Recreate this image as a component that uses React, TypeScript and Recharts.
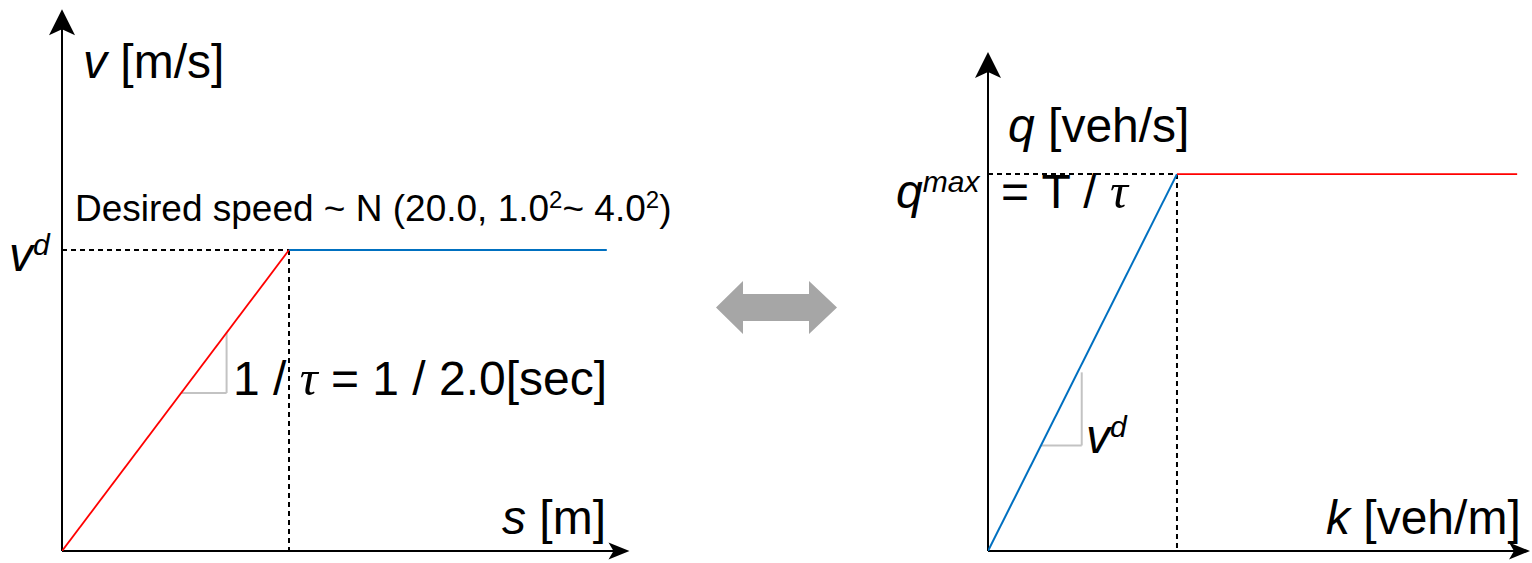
import React from 'react';
import {
  LineChart,
  Line,
  XAxis,
  YAxis,
  ReferenceLine,
  ReferenceDot,
  Customized,
} from 'recharts';

// ---- speed / spacing relation (v = s / tau, capped at the desired speed) ----
const desiredSpeed = 20.0; // m/s
const tau = 2.0; // s
const kneeSpacing = desiredSpeed * tau; // 40 m
const vsRising = [
  { s: 0, v: 0 },
  { s: kneeSpacing, v: desiredSpeed },
];
const vsFlat = [
  { s: kneeSpacing, v: desiredSpeed },
  { s: 96, v: desiredSpeed },
];
const sDomain: [number, number] = [0, 100];
const vDomain: [number, number] = [0, 36];
// slope marker on the rising branch
const sSlope = [21, 29];
const vSlope = [10.5, 14.5];

// ---- flow / density relation (q = v^d k, capped at q^max) ----
const qMax = 1 / tau; // veh/s
const kneeDensity = qMax / desiredSpeed; // veh/m
const qkRising = [
  { k: 0, q: 0 },
  { k: kneeDensity, q: qMax },
];
const qkFlat = [
  { k: kneeDensity, q: qMax },
  { k: 0.07, q: qMax },
];
const kDomain: [number, number] = [0, 0.0717];
const qDomain: [number, number] = [0, 0.662];
const kSlope = [0.007, 0.0124];
const qSlope = [0.14, 0.237];

const SANS = '"Liberation Sans", Arial, sans-serif';
const SERIF = '"Liberation Serif", "Times New Roman", serif';
const RED = '#ff0000';
const BLUE = '#0070c0';
const GUIDE_GRAY = '#c3c3c3';
const BIG = 48;
const SUP = 30;

// classic notched arrowheads for the axes
const UpHead = (props: any) => {
  const { cx, cy } = props;
  return (
    <path
      d={`M${cx},${cy} L${cx + 13},${cy + 26} L${cx},${cy + 20} L${cx - 13},${cy + 26} Z`}
      fill="#000"
    />
  );
};
const RightHead = (props: any) => {
  const { cx, cy } = props;
  return (
    <path
      d={`M${cx},${cy} L${cx - 21},${cy - 8.5} L${cx - 16},${cy} L${cx - 21},${cy + 8.5} Z`}
      fill="#000"
    />
  );
};

const LeftText = () => (
  <g fontFamily={SANS} fill="#000">
    <text x={83} y={78} fontSize={BIG}>
      <tspan fontStyle="italic">v</tspan>
      {' [m/s]'}
    </text>
    <text x={75} y={221} fontSize={37}>
      {'Desired speed ~ N (20.0, 1.0'}
      <tspan dy={-13} fontSize={24}>2</tspan>
      <tspan dy={13}>{'~ 4.0'}</tspan>
      <tspan dy={-13} fontSize={24}>2</tspan>
      <tspan dy={13}>)</tspan>
    </text>
    <text x={9} y={271} fontSize={BIG}>
      <tspan fontStyle="italic">v</tspan>
      <tspan dy={-16} fontSize={SUP} fontStyle="italic">d</tspan>
    </text>
    <text x={233} y={395} fontSize={BIG}>
      {'1 / '}
      <tspan fontFamily={SERIF} fontStyle="italic" fontSize={50}>τ</tspan>
      {' = 1 / 2.0[sec]'}
    </text>
    <text x={502} y={534} fontSize={BIG}>
      <tspan fontStyle="italic">s</tspan>
      {' [m]'}
    </text>
    {/* equivalence arrow between the two diagrams */}
    <path
      d="M716,307.5 L743,281 L743,294 L809,294 L809,281 L837,307.5 L809,334 L809,321 L743,321 L743,334 Z"
      fill="#a6a6a6"
    />
  </g>
);

const RightText = () => (
  <g fontFamily={SANS} fill="#000">
    <text x={148} y={142} fontSize={BIG}>
      <tspan fontStyle="italic">q</tspan>
      {' [veh/s]'}
    </text>
    <text x={36} y={208} fontSize={BIG}>
      <tspan fontStyle="italic">q</tspan>
      <tspan dy={-16} fontSize={SUP} fontStyle="italic">max</tspan>
    </text>
    <text x={141} y={208} fontSize={BIG}>
      {'= T / '}
      <tspan fontFamily={SERIF} fontStyle="italic" fontSize={50}>τ</tspan>
    </text>
    <text x={226} y={453} fontSize={BIG}>
      <tspan fontStyle="italic">v</tspan>
      <tspan dy={-16} fontSize={SUP} fontStyle="italic">d</tspan>
    </text>
    <text x={466} y={534} fontSize={BIG}>
      <tspan fontStyle="italic">k</tspan>
      {' [veh/m]'}
    </text>
  </g>
);

const dashed = { stroke: '#000', strokeWidth: 2, strokeDasharray: '5 4' };
const axisStroke = { stroke: '#000', strokeWidth: 2 };

export default function App() {
  return (
    <div style={{ position: 'absolute', left: 0, top: 0, width: 1532, height: 563, background: '#fff' }}>
      <div style={{ position: 'absolute', left: 0, top: 0 }}>
        <LineChart width={860} height={563} margin={{ top: 9.2, right: 230.5, bottom: 12, left: 62 }}>
          <XAxis type="number" dataKey="s" domain={sDomain} hide allowDataOverflow />
          <YAxis type="number" domain={vDomain} hide allowDataOverflow />
          <ReferenceLine segment={[{ x: 0, y: desiredSpeed }, { x: kneeSpacing, y: desiredSpeed }]} {...dashed} ifOverflow="visible" />
          <ReferenceLine segment={[{ x: kneeSpacing, y: desiredSpeed }, { x: kneeSpacing, y: 0 }]} {...dashed} ifOverflow="visible" />
          <ReferenceLine segment={[{ x: sSlope[0], y: vSlope[0] }, { x: sSlope[1], y: vSlope[0] }]} stroke={GUIDE_GRAY} strokeWidth={2} ifOverflow="visible" />
          <ReferenceLine segment={[{ x: sSlope[1], y: vSlope[0] }, { x: sSlope[1], y: vSlope[1] }]} stroke={GUIDE_GRAY} strokeWidth={2} ifOverflow="visible" />
          <ReferenceLine segment={[{ x: 0, y: 0 }, { x: sDomain[1] - 1, y: 0 }]} {...axisStroke} ifOverflow="visible" />
          <ReferenceLine segment={[{ x: 0, y: 0 }, { x: 0, y: vDomain[1] - 0.5 }]} {...axisStroke} ifOverflow="visible" />
          <ReferenceDot x={sDomain[1]} y={0} shape={RightHead} ifOverflow="visible" />
          <ReferenceDot x={0} y={vDomain[1]} shape={UpHead} ifOverflow="visible" />
          <Line data={vsRising} dataKey="v" stroke={RED} strokeWidth={1.8} dot={false} isAnimationActive={false} />
          <Line data={vsFlat} dataKey="v" stroke={BLUE} strokeWidth={2} dot={false} isAnimationActive={false} />
          <Customized component={<LeftText />} />
        </LineChart>
      </div>
      <div style={{ position: 'absolute', left: 860, top: 0 }}>
        <LineChart width={672} height={563} margin={{ top: 52, right: 2, bottom: 12, left: 128 }}>
          <XAxis type="number" dataKey="k" domain={kDomain} hide allowDataOverflow />
          <YAxis type="number" domain={qDomain} hide allowDataOverflow />
          <ReferenceLine segment={[{ x: 0, y: qMax }, { x: kneeDensity, y: qMax }]} {...dashed} ifOverflow="visible" />
          <ReferenceLine segment={[{ x: kneeDensity, y: qMax }, { x: kneeDensity, y: 0 }]} {...dashed} ifOverflow="visible" />
          <ReferenceLine segment={[{ x: kSlope[0], y: qSlope[0] }, { x: kSlope[1], y: qSlope[0] }]} stroke={GUIDE_GRAY} strokeWidth={2} ifOverflow="visible" />
          <ReferenceLine segment={[{ x: kSlope[1], y: qSlope[0] }, { x: kSlope[1], y: qSlope[1] }]} stroke={GUIDE_GRAY} strokeWidth={2} ifOverflow="visible" />
          <ReferenceLine segment={[{ x: 0, y: 0 }, { x: kDomain[1] - 0.0007, y: 0 }]} {...axisStroke} ifOverflow="visible" />
          <ReferenceLine segment={[{ x: 0, y: 0 }, { x: 0, y: qDomain[1] - 0.01 }]} {...axisStroke} ifOverflow="visible" />
          <ReferenceDot x={kDomain[1]} y={0} shape={RightHead} ifOverflow="visible" />
          <ReferenceDot x={0} y={qDomain[1]} shape={UpHead} ifOverflow="visible" />
          <Line data={qkRising} dataKey="q" stroke={BLUE} strokeWidth={2} dot={false} isAnimationActive={false} />
          <Line data={qkFlat} dataKey="q" stroke={RED} strokeWidth={1.8} dot={false} isAnimationActive={false} />
          <Customized component={<RightText />} />
        </LineChart>
      </div>
    </div>
  );
}
